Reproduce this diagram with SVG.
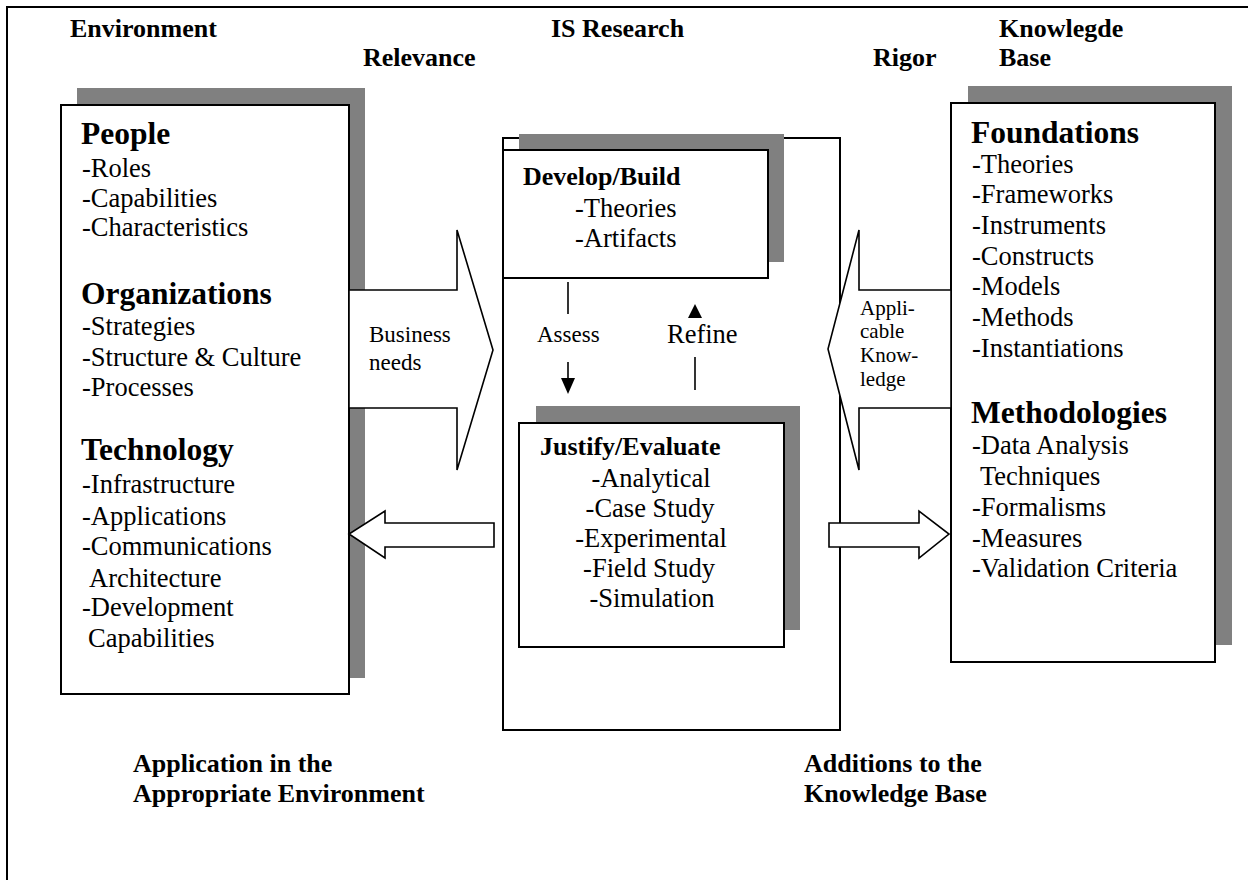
<svg xmlns="http://www.w3.org/2000/svg" width="1248" height="880" viewBox="0 0 1248 880">
<style>
text{font-family:"Liberation Serif","Times New Roman",serif;fill:#000}
.lbl{font-weight:bold;font-size:26px}
.hd{font-weight:bold;font-size:31.5px}
.bd{font-size:26.5px}
.sm{font-size:23px}
.xs{font-size:21px}
.box{fill:#fff;stroke:#000;stroke-width:2}
.shd{fill:#808080}
.arr{fill:#fff;stroke:#000;stroke-width:1.6;stroke-linejoin:miter}
.ln{stroke:#000;stroke-width:1.6;fill:none}
</style>
<rect width="1248" height="880" fill="#fff"/>
<rect x="7" y="7" width="1260" height="900" fill="none" stroke="#000" stroke-width="2"/>

<g id="labels">
<text class="lbl" x="70" y="37">Environment</text>
<text class="lbl" x="551" y="37">IS Research</text>
<text class="lbl" x="999" y="37">Knowlegde</text>
<text class="lbl" x="363" y="66">Relevance</text>
<text class="lbl" x="873" y="66">Rigor</text>
<text class="lbl" x="999" y="66">Base</text>
<text class="lbl" x="133" y="772">Application in the</text>
<text class="lbl" x="133" y="802">Appropriate Environment</text>
<text class="lbl" x="804" y="772">Additions to the</text>
<text class="lbl" x="804" y="802">Knowledge Base</text>
</g>

<g id="environment">
<rect class="shd" x="77" y="88" width="288" height="590"/>
<rect class="box" x="61" y="105" width="288" height="589"/>
<text class="hd" x="81" y="144">People</text>
<text class="bd" x="82" y="177">-Roles</text>
<text class="bd" x="82" y="207">-Capabilities</text>
<text class="bd" x="82" y="236">-Characteristics</text>
<text class="hd" x="81" y="304">Organizations</text>
<text class="bd" x="82" y="335">-Strategies</text>
<text class="bd" x="82" y="366">-Structure &amp; Culture</text>
<text class="bd" x="82" y="396">-Processes</text>
<text class="hd" x="81" y="460">Technology</text>
<text class="bd" x="82" y="493">-Infrastructure</text>
<text class="bd" x="82" y="525">-Applications</text>
<text class="bd" x="82" y="555">-Communications</text>
<text class="bd" x="89" y="587">Architecture</text>
<text class="bd" x="82" y="616">-Development</text>
<text class="bd" x="88" y="647">Capabilities</text>
</g>

<g id="is-research">
<rect class="box" x="503" y="138" width="337" height="592" stroke-width="1.8"/>
</g>

<g id="develop-build">
<rect class="shd" x="519" y="134" width="265" height="128"/>
<rect class="box" x="503" y="150" width="265" height="128"/>
<text class="lbl" x="523" y="185">Develop/Build</text>
<text class="bd" x="575" y="217">-Theories</text>
<text class="bd" x="575" y="247">-Artifacts</text>
</g>

<g id="justify-evaluate">
<rect class="shd" x="536" y="406" width="264" height="224"/>
<rect class="box" x="519" y="423" width="265" height="224"/>
<text class="lbl" x="540" y="455">Justify/Evaluate</text>
<g text-anchor="middle">
<text class="bd" x="651" y="487">-Analytical</text>
<text class="bd" x="650" y="517">-Case Study</text>
<text class="bd" x="651" y="547">-Experimental</text>
<text class="bd" x="649" y="577">-Field Study</text>
<text class="bd" x="652" y="607">-Simulation</text>
</g>
</g>

<g id="knowledge-base">
<rect class="shd" x="968" y="86" width="264" height="559"/>
<rect class="box" x="951" y="103" width="264" height="559"/>
<text class="hd" x="971" y="143">Foundations</text>
<text class="bd" x="972" y="173">-Theories</text>
<text class="bd" x="972" y="203">-Frameworks</text>
<text class="bd" x="972" y="234">-Instruments</text>
<text class="bd" x="972" y="265">-Constructs</text>
<text class="bd" x="972" y="295">-Models</text>
<text class="bd" x="972" y="326">-Methods</text>
<text class="bd" x="972" y="357">-Instantiations</text>
<text class="hd" x="971" y="423">Methodologies</text>
<text class="bd" x="972" y="454">-Data Analysis</text>
<text class="bd" x="980" y="485">Techniques</text>
<text class="bd" x="972" y="516">-Formalisms</text>
<text class="bd" x="972" y="547">-Measures</text>
<text class="bd" x="972" y="577">-Validation Criteria</text>
</g>

<g id="connectors">
<polygon class="arr" points="349,290 457,290 457,230 493,350 457,470 457,408 349,408"/>
<text class="sm" x="369" y="342">Business</text>
<text class="sm" x="369" y="370">needs</text>
<polygon class="arr" points="951,290 859,290 859,230 828,349 859,470 859,408 951,408"/>
<text class="xs" x="860" y="315">Appli-</text>
<text class="xs" x="860" y="338">cable</text>
<text class="xs" x="860" y="362">Know-</text>
<text class="xs" x="860" y="386">ledge</text>
<polygon class="arr" points="494,523 385,523 385,511 349,534 385,558 385,547 494,547"/>
<polygon class="arr" points="829,523 919,523 919,511 949,534 919,558 919,547 829,547"/>
<line class="ln" x1="568" y1="282" x2="568" y2="314"/>
<line class="ln" x1="568" y1="362" x2="568" y2="380"/>
<polygon points="561,378 575,378 568,394" fill="#000"/>
<text class="sm" x="537" y="342">Assess</text>
<polygon points="688,318 702,318 695,304" fill="#000"/>
<text class="bd" x="667" y="343">Refine</text>
<line class="ln" x1="695" y1="357" x2="695" y2="390"/>
</g>
</svg>
